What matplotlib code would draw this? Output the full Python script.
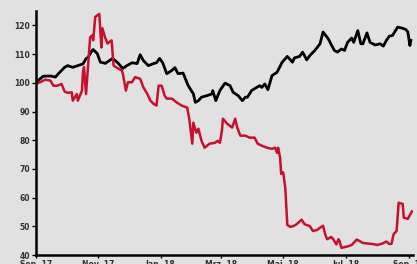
import matplotlib
matplotlib.use("Agg")
import matplotlib.pyplot as plt
import matplotlib.dates as mdates
import pandas as pd

# ── data (index, Sep 2017 = 100) ─────────────────────────────────────────────
black_dates = [
    "2017-09-01", "2017-09-05", "2017-09-08", "2017-09-15", "2017-09-20", "2017-09-23",
    "2017-09-26", "2017-09-29", "2017-10-02", "2017-10-07", "2017-10-12", "2017-10-17",
    "2017-10-20", "2017-10-22", "2017-10-26", "2017-10-27", "2017-10-31", "2017-11-03",
    "2017-11-08", "2017-11-12", "2017-11-15", "2017-11-20", "2017-11-25", "2017-11-29",
    "2017-12-04", "2017-12-09", "2017-12-12", "2017-12-15", "2017-12-20", "2017-12-25",
    "2017-12-28", "2017-12-31", "2018-01-03", "2018-01-07", "2018-01-12", "2018-01-15",
    "2018-01-18", "2018-01-23", "2018-01-28", "2018-02-02", "2018-02-04", "2018-02-07",
    "2018-02-10", "2018-02-15", "2018-02-20", "2018-02-21", "2018-02-24", "2018-02-28",
    "2018-03-05", "2018-03-10", "2018-03-13", "2018-03-18", "2018-03-22", "2018-03-25",
    "2018-03-27", "2018-03-31", "2018-04-05", "2018-04-08", "2018-04-10", "2018-04-13",
    "2018-04-16", "2018-04-20", "2018-04-25", "2018-04-30", "2018-05-05", "2018-05-10",
    "2018-05-12", "2018-05-17", "2018-05-20", "2018-05-24", "2018-05-27", "2018-06-01",
    "2018-06-06", "2018-06-09", "2018-06-14", "2018-06-20", "2018-06-23", "2018-06-27",
    "2018-06-30", "2018-07-03", "2018-07-07", "2018-07-09", "2018-07-13", "2018-07-16",
    "2018-07-18", "2018-07-22", "2018-07-25", "2018-07-30", "2018-08-04", "2018-08-07",
    "2018-08-10", "2018-08-13", "2018-08-16", "2018-08-21", "2018-08-25", "2018-08-29",
    "2018-08-31", "2018-09-02", "2018-09-03",
]
black_vals = [
    100.0, 101.4, 102.3, 102.4, 102.0, 103.2,
    104.3, 105.4, 106.0, 105.4, 106.0, 106.6,
    108.4, 108.9, 111.3, 111.6, 110.2, 107.2,
    106.8, 107.8, 108.5, 107.0, 105.0, 106.0,
    107.0, 106.7, 109.8, 107.8, 106.0, 106.7,
    107.0, 108.5, 107.0, 103.2, 104.3, 105.3,
    103.2, 103.4, 99.0, 96.2, 93.2, 93.8,
    95.0, 95.5, 96.1, 97.3, 93.8, 97.3,
    99.9, 99.0, 96.7, 95.5, 93.8, 95.0,
    95.0, 97.3, 98.4, 99.0, 98.4, 99.6,
    97.6, 102.5, 103.7, 107.2, 109.2, 107.2,
    108.7, 109.2, 110.7, 108.0, 109.5, 111.3,
    113.6, 117.7, 115.4, 111.3, 110.7, 111.8,
    111.3, 114.1, 115.6, 114.1, 118.2, 113.6,
    113.6, 117.4, 114.1, 113.2, 113.6, 112.8,
    114.8, 116.3, 116.5, 119.4, 119.1, 118.6,
    117.7, 113.0, 114.8,
]

red_dates = [
    "2017-09-01", "2017-09-05", "2017-09-10", "2017-09-15", "2017-09-18", "2017-09-22",
    "2017-09-26", "2017-09-29", "2017-10-02", "2017-10-06", "2017-10-07", "2017-10-11",
    "2017-10-12", "2017-10-16", "2017-10-17", "2017-10-18", "2017-10-20", "2017-10-22",
    "2017-10-24", "2017-10-26", "2017-10-27", "2017-10-29", "2017-11-02", "2017-11-04",
    "2017-11-05", "2017-11-08", "2017-11-10", "2017-11-14", "2017-11-16", "2017-11-19",
    "2017-11-24", "2017-11-25", "2017-11-28", "2017-11-30", "2017-12-04", "2017-12-07",
    "2017-12-12", "2017-12-15", "2017-12-19", "2017-12-22", "2017-12-25", "2017-12-28",
    "2017-12-30", "2018-01-02", "2018-01-05", "2018-01-07", "2018-01-12", "2018-01-17",
    "2018-01-22", "2018-01-27", "2018-01-29", "2018-02-01", "2018-02-02", "2018-02-05",
    "2018-02-07", "2018-02-10", "2018-02-13", "2018-02-18", "2018-02-23", "2018-02-26",
    "2018-02-28", "2018-03-02", "2018-03-03", "2018-03-07", "2018-03-12", "2018-03-15",
    "2018-03-17", "2018-03-20", "2018-03-25", "2018-03-29", "2018-04-03", "2018-04-06",
    "2018-04-10", "2018-04-15", "2018-04-20", "2018-04-23", "2018-04-25", "2018-04-26",
    "2018-04-28", "2018-04-29", "2018-05-01", "2018-05-03", "2018-05-05", "2018-05-08",
    "2018-05-11", "2018-05-14", "2018-05-19", "2018-05-22", "2018-05-27", "2018-05-30",
    "2018-06-03", "2018-06-06", "2018-06-09", "2018-06-11", "2018-06-13", "2018-06-17",
    "2018-06-19", "2018-06-22", "2018-06-24", "2018-06-25", "2018-06-27", "2018-07-03",
    "2018-07-07", "2018-07-12", "2018-07-18", "2018-07-23", "2018-07-28", "2018-08-01",
    "2018-08-06", "2018-08-10", "2018-08-13", "2018-08-15", "2018-08-17", "2018-08-20",
    "2018-08-22", "2018-08-26", "2018-08-27", "2018-08-31", "2018-09-04",
]
red_vals = [
    99.7, 100.2, 101.1, 100.8, 99.0, 99.0,
    99.6, 97.0, 96.5, 96.7, 93.8, 96.1,
    93.8, 97.3, 103.7, 105.5, 96.1, 106.0,
    115.9, 116.5, 114.8, 123.0, 124.0, 112.3,
    119.0, 115.5, 113.7, 114.8, 106.0, 105.3,
    104.3, 103.2, 97.3, 100.2, 100.2, 102.0,
    101.4, 98.5, 96.1, 93.8, 92.7, 92.1,
    99.0, 99.0, 95.5, 94.5, 94.5, 93.1,
    92.0, 91.4, 87.5, 78.8, 86.1, 82.6,
    84.0, 79.8, 77.4, 78.8, 79.1, 79.8,
    79.1, 83.3, 87.5, 85.8, 84.4, 87.5,
    84.4, 81.6, 81.6, 80.9, 80.9, 78.8,
    78.1, 77.4, 77.0, 77.4, 75.6, 77.4,
    73.9, 68.3, 68.8, 63.5, 50.5, 49.8,
    50.1, 50.7, 52.3, 50.7, 50.1, 48.4,
    48.7, 49.5, 50.2, 47.3, 45.5, 46.3,
    45.5, 43.7, 45.5, 45.0, 42.5, 43.0,
    43.5, 45.4, 44.2, 44.0, 43.8, 43.5,
    44.0, 44.7, 43.8, 43.9, 47.2, 48.4,
    58.2, 57.8, 53.0, 52.6, 55.2,
]

tick_dates = ["2017-09-01", "2017-11-01", "2018-01-01", "2018-03-01",
              "2018-05-01", "2018-07-01", "2018-09-01"]
tick_labels = ["Sep. 17", "Nov. 17", "Jan. 18", "Mrz. 18", "Mai. 18", "Jul. 18", "Sep. 18"]
y_ticks = [40, 50, 60, 70, 80, 90, 100, 110, 120]

BG = "#e1e1e1"
RED = "#c8102e"

fig = plt.figure(figsize=(4.17, 2.64), dpi=100, facecolor=BG)
ax = fig.add_axes([0.0863, 0.034, 0.904, 0.924], facecolor=BG)

ax.plot(pd.to_datetime(black_dates), black_vals, color="black", lw=2.0,
        solid_joinstyle="round")
ax.plot(pd.to_datetime(red_dates), red_vals, color=RED, lw=1.8,
        solid_joinstyle="round")

ax.set_ylim(40, 125)
ax.set_xlim(pd.Timestamp("2017-09-01"), pd.Timestamp("2018-09-05"))
ax.set_yticks(y_ticks)
ax.set_xticks(pd.to_datetime(tick_dates))
ax.set_xticklabels(tick_labels)

for s in ["top", "right"]:
    ax.spines[s].set_visible(False)
for s in ["left", "bottom"]:
    ax.spines[s].set_linewidth(1.8)
    ax.spines[s].set_color("black")

ax.tick_params(axis="y", length=3, width=1, pad=1.5, labelsize=5.5,
               labelcolor="#333333")
ax.tick_params(axis="x", length=2, width=1, pad=1.5, labelsize=5.5,
               labelcolor="#333333")
for lab in ax.get_xticklabels() + ax.get_yticklabels():
    lab.set_fontweight("bold")

fig.savefig("out.png", dpi=100, facecolor=BG)
